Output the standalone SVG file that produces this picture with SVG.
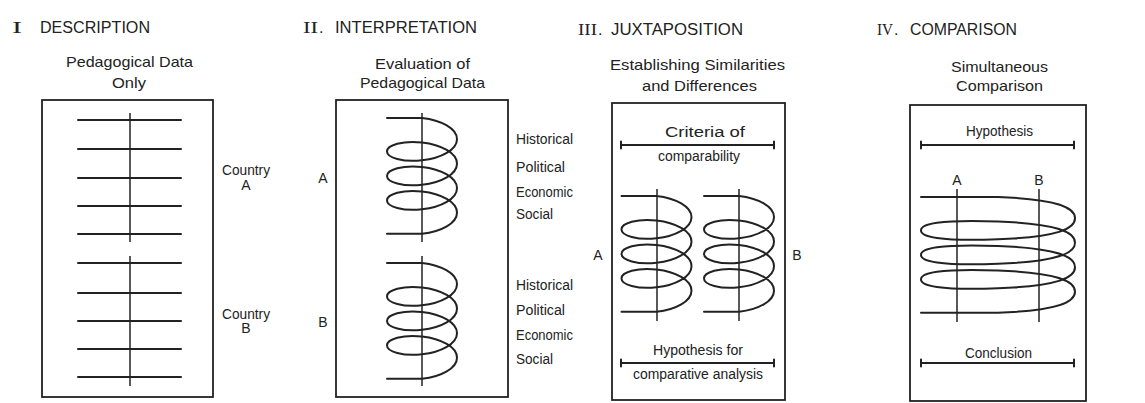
<svg xmlns="http://www.w3.org/2000/svg" xmlns:xlink="http://www.w3.org/1999/xlink" width="1145" height="403" viewBox="0 0 1145 403">
<style>
.box{fill:none;stroke:#222;stroke-width:1.8}
.ln{fill:none;stroke:#222;stroke-width:2;stroke-linecap:round}
.ax{fill:none;stroke:#222;stroke-width:1.5}
.hx{fill:none;stroke:#222;stroke-width:2;stroke-linejoin:round;stroke-linecap:round}
text{font-family:"Liberation Sans","DejaVu Sans",sans-serif;fill:#222}
.tt{font-size:16px}
.num{font-family:"Liberation Serif","DejaVu Serif",serif;font-size:16px}
.st{font-size:15px}
.lb{font-size:14px}
</style>
<defs>
<path id="hx35" class="hx" d="M -35 0 L 0 0 C 19.33 2.154 35 10.687 35 21.125 C 35 31.563 19.33 40.096 0 42.25 C -19.33 44.404 -35 39.506 -35 33.375 C -35 27.244 -19.33 22.346 0 24.5 C 19.33 26.654 35 35.187 35 45.625 C 35 56.063 19.33 64.596 0 66.75 C -19.33 68.904 -35 64.006 -35 57.875 C -35 51.744 -19.33 46.846 0 49 C 19.33 51.154 35 59.687 35 70.125 C 35 80.563 19.33 89.096 0 91.25 C -19.33 93.404 -35 88.506 -35 82.375 C -35 76.244 -19.33 71.346 0 73.5 C 19.33 75.654 35 84.187 35 94.625 C 35 105.063 19.33 113.596 0 115.75 L -35 115.75"/>
<path id="hx77" class="hx" d="M -77 0 L 0 0 C 60 2.154 77 10.687 77 21.125 C 77 31.563 60 40.096 0 42.25 C -60 44.404 -77 39.506 -77 33.375 C -77 27.244 -60 22.346 0 24.5 C 60 26.654 77 35.187 77 45.625 C 77 56.063 60 64.596 0 66.75 C -60 68.904 -77 64.006 -77 57.875 C -77 51.744 -60 46.846 0 49 C 60 51.154 77 59.687 77 70.125 C 77 80.563 60 89.096 0 91.25 C -60 93.404 -77 88.506 -77 82.375 C -77 76.244 -60 71.346 0 73.5 C 60 75.654 77 84.187 77 94.625 C 77 105.063 60 113.596 0 115.75 L -77 115.75"/>
</defs>
<rect width="1145" height="403" fill="#ffffff"/>

<g id="panel-description">
<text class="num" x="12" y="33" textLength="10" lengthAdjust="spacingAndGlyphs">I</text>
<text class="tt" x="40" y="33" textLength="110" lengthAdjust="spacingAndGlyphs">DESCRIPTION</text>
<text class="st" x="66" y="67" textLength="127" lengthAdjust="spacingAndGlyphs">Pedagogical Data</text>
<text class="st" x="112" y="88" textLength="34" lengthAdjust="spacingAndGlyphs">Only</text>
<rect class="box" x="42" y="100" width="171" height="297"/>
<g class="ln">
<line x1="78" y1="120" x2="181" y2="120"/><line x1="78" y1="149" x2="181" y2="149"/><line x1="78" y1="178" x2="181" y2="178"/><line x1="78" y1="206" x2="181" y2="206"/><line x1="78" y1="234" x2="181" y2="234"/>
<line x1="78" y1="263" x2="181" y2="263"/><line x1="78" y1="293" x2="181" y2="293"/><line x1="78" y1="321" x2="181" y2="321"/><line x1="78" y1="349" x2="181" y2="349"/><line x1="78" y1="377" x2="181" y2="377"/>
</g>
<line class="ax" x1="130" y1="113" x2="130" y2="242"/>
<line class="ax" x1="130" y1="256" x2="130" y2="386"/>
<text class="lb" x="222" y="175" textLength="48" lengthAdjust="spacingAndGlyphs">Country</text>
<text class="lb" x="246" y="190" text-anchor="middle">A</text>
<text class="lb" x="222" y="319" textLength="48" lengthAdjust="spacingAndGlyphs">Country</text>
<text class="lb" x="246" y="333" text-anchor="middle">B</text>
</g>

<g id="panel-interpretation">
<text class="num" x="303" y="33" textLength="15" lengthAdjust="spacingAndGlyphs">II</text>
<text class="tt" x="319" y="33">.</text>
<text class="tt" x="335" y="33" textLength="142" lengthAdjust="spacingAndGlyphs">INTERPRETATION</text>
<text class="st" x="375" y="69" textLength="95" lengthAdjust="spacingAndGlyphs">Evaluation of</text>
<text class="st" x="360" y="88" textLength="125" lengthAdjust="spacingAndGlyphs">Pedagogical Data</text>
<rect class="box" x="336" y="100" width="172" height="297"/>
<line class="ax" x1="422" y1="113" x2="422" y2="242"/>
<line class="ax" x1="422" y1="256" x2="422" y2="386"/>
<use xlink:href="#hx35" x="422" y="118"/>
<use xlink:href="#hx35" x="422" y="263"/>
<text class="lb" x="323" y="183" text-anchor="middle">A</text>
<text class="lb" x="323" y="327" text-anchor="middle">B</text>
<text class="lb" x="516" y="144" textLength="57" lengthAdjust="spacingAndGlyphs">Historical</text>
<text class="lb" x="516" y="172" textLength="49" lengthAdjust="spacingAndGlyphs">Political</text>
<text class="lb" x="516" y="197" textLength="57" lengthAdjust="spacingAndGlyphs">Economic</text>
<text class="lb" x="516" y="219" textLength="37" lengthAdjust="spacingAndGlyphs">Social</text>
<text class="lb" x="516" y="290" textLength="57" lengthAdjust="spacingAndGlyphs">Historical</text>
<text class="lb" x="516" y="315" textLength="49" lengthAdjust="spacingAndGlyphs">Political</text>
<text class="lb" x="516" y="340" textLength="57" lengthAdjust="spacingAndGlyphs">Economic</text>
<text class="lb" x="516" y="364" textLength="37" lengthAdjust="spacingAndGlyphs">Social</text>
</g>

<g id="panel-juxtaposition">
<text class="num" x="578" y="35" textLength="19" lengthAdjust="spacingAndGlyphs">III</text>
<text class="tt" x="598" y="35">.</text>
<text class="tt" x="611" y="35" textLength="132" lengthAdjust="spacingAndGlyphs">JUXTAPOSITION</text>
<text class="st" x="610" y="70" textLength="175" lengthAdjust="spacingAndGlyphs">Establishing Similarities</text>
<text class="st" x="642" y="91" textLength="115" lengthAdjust="spacingAndGlyphs">and Differences</text>
<rect class="box" x="612" y="103" width="173" height="297"/>
<text class="lb" x="665" y="137" textLength="80" lengthAdjust="spacingAndGlyphs">Criteria of</text>
<path class="ln" d="M621 145 H774 M621 141.5 V148.5 M774 141.5 V148.5"/>
<text class="lb" x="658" y="161" textLength="82" lengthAdjust="spacingAndGlyphs">comparability</text>
<line class="ax" x1="657" y1="189" x2="657" y2="321"/>
<line class="ax" x1="739" y1="189" x2="739" y2="321"/>
<use xlink:href="#hx35" x="656.5" y="196"/>
<use xlink:href="#hx35" x="739" y="196"/>
<text class="lb" x="598" y="260" text-anchor="middle">A</text>
<text class="lb" x="797" y="260" text-anchor="middle">B</text>
<text class="lb" x="653" y="355" textLength="90" lengthAdjust="spacingAndGlyphs">Hypothesis for</text>
<path class="ln" d="M621 363 H774 M621 359.5 V366.5 M774 359.5 V366.5"/>
<text class="lb" x="633" y="379" textLength="130" lengthAdjust="spacingAndGlyphs">comparative analysis</text>
</g>

<g id="panel-comparison">
<text class="num" x="877" y="35" textLength="16" lengthAdjust="spacingAndGlyphs">IV</text>
<text class="tt" x="894" y="35">.</text>
<text class="tt" x="910" y="35" textLength="107" lengthAdjust="spacingAndGlyphs">COMPARISON</text>
<text class="st" x="951" y="72" textLength="97" lengthAdjust="spacingAndGlyphs">Simultaneous</text>
<text class="st" x="956" y="91" textLength="87" lengthAdjust="spacingAndGlyphs">Comparison</text>
<rect class="box" x="910" y="105" width="176" height="296"/>
<text class="lb" x="966" y="136" textLength="67" lengthAdjust="spacingAndGlyphs">Hypothesis</text>
<path class="ln" d="M921 145 H1074 M921 141.5 V148.5 M1074 141.5 V148.5"/>
<text class="lb" x="957" y="185" text-anchor="middle">A</text>
<text class="lb" x="1039" y="185" text-anchor="middle">B</text>
<line class="ax" x1="957" y1="189" x2="957" y2="322"/>
<line class="ax" x1="1039" y1="189" x2="1039" y2="322"/>
<use xlink:href="#hx77" x="998" y="197"/>
<text class="lb" x="965" y="358" textLength="67" lengthAdjust="spacingAndGlyphs">Conclusion</text>
<path class="ln" d="M921 363 H1074 M921 359.5 V366.5 M1074 359.5 V366.5"/>
</g>
</svg>
